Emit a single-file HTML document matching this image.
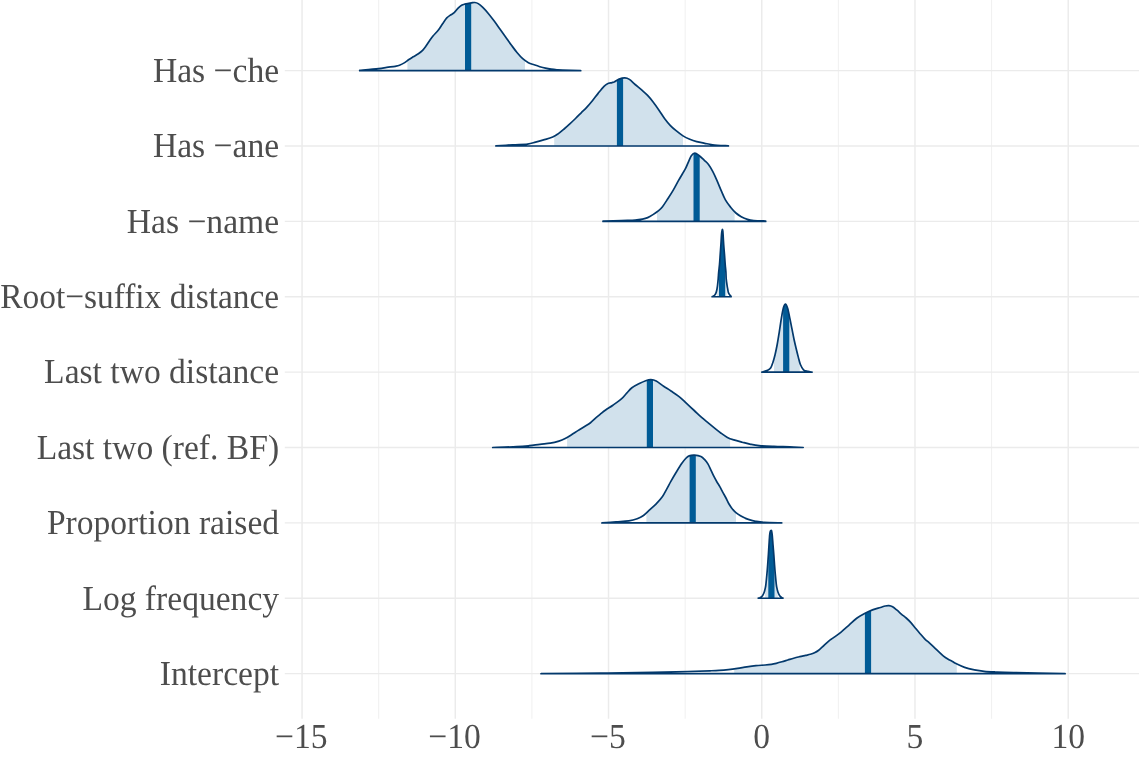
<!DOCTYPE html><html><head><meta charset="utf-8"><style>html,body{margin:0;padding:0;background:#fff;}svg{display:block;}text{font-family:"Liberation Serif","DejaVu Serif",serif;fill:#4D4D4D;text-rendering:geometricPrecision;}</style></head><body>
<svg width="1140" height="758" viewBox="0 0 1140 758">
<rect width="1140" height="758" fill="#fff"/>
<line x1="378.68" y1="-10.00" x2="378.68" y2="718.80" stroke="#EBEBEB" stroke-width="0.75"/>
<line x1="531.90" y1="-10.00" x2="531.90" y2="718.80" stroke="#EBEBEB" stroke-width="0.75"/>
<line x1="685.13" y1="-10.00" x2="685.13" y2="718.80" stroke="#EBEBEB" stroke-width="0.75"/>
<line x1="838.37" y1="-10.00" x2="838.37" y2="718.80" stroke="#EBEBEB" stroke-width="0.75"/>
<line x1="991.60" y1="-10.00" x2="991.60" y2="718.80" stroke="#EBEBEB" stroke-width="0.75"/>
<line x1="302.06" y1="-10.00" x2="302.06" y2="718.80" stroke="#EBEBEB" stroke-width="1.45"/>
<line x1="455.29" y1="-10.00" x2="455.29" y2="718.80" stroke="#EBEBEB" stroke-width="1.45"/>
<line x1="608.52" y1="-10.00" x2="608.52" y2="718.80" stroke="#EBEBEB" stroke-width="1.45"/>
<line x1="761.75" y1="-10.00" x2="761.75" y2="718.80" stroke="#EBEBEB" stroke-width="1.45"/>
<line x1="914.98" y1="-10.00" x2="914.98" y2="718.80" stroke="#EBEBEB" stroke-width="1.45"/>
<line x1="1068.21" y1="-10.00" x2="1068.21" y2="718.80" stroke="#EBEBEB" stroke-width="1.45"/>
<line x1="284.80" y1="70.63" x2="1139.00" y2="70.63" stroke="#EBEBEB" stroke-width="1.45"/>
<line x1="284.80" y1="146.00" x2="1139.00" y2="146.00" stroke="#EBEBEB" stroke-width="1.45"/>
<line x1="284.80" y1="221.38" x2="1139.00" y2="221.38" stroke="#EBEBEB" stroke-width="1.45"/>
<line x1="284.80" y1="296.75" x2="1139.00" y2="296.75" stroke="#EBEBEB" stroke-width="1.45"/>
<line x1="284.80" y1="372.13" x2="1139.00" y2="372.13" stroke="#EBEBEB" stroke-width="1.45"/>
<line x1="284.80" y1="447.50" x2="1139.00" y2="447.50" stroke="#EBEBEB" stroke-width="1.45"/>
<line x1="284.80" y1="522.88" x2="1139.00" y2="522.88" stroke="#EBEBEB" stroke-width="1.45"/>
<line x1="284.80" y1="598.25" x2="1139.00" y2="598.25" stroke="#EBEBEB" stroke-width="1.45"/>
<line x1="284.80" y1="673.63" x2="1139.00" y2="673.63" stroke="#EBEBEB" stroke-width="1.45"/>
<defs>
<clipPath id="c0"><path d="M359.70,70.30 C362.82,70.02 373.88,69.08 378.40,68.60 C382.92,68.12 383.98,67.78 386.80,67.40 C389.62,67.02 393.18,66.65 395.30,66.30 C397.42,65.95 397.93,65.92 399.50,65.30 C401.07,64.68 403.13,63.57 404.70,62.60 C406.27,61.63 407.48,60.47 408.90,59.50 C410.32,58.53 411.62,57.77 413.20,56.80 C414.78,55.83 416.83,54.78 418.40,53.70 C419.97,52.62 421.37,51.53 422.60,50.30 C423.83,49.07 424.57,48.02 425.80,46.30 C427.03,44.58 428.77,41.75 430.00,40.00 C431.23,38.25 431.80,37.47 433.20,35.80 C434.60,34.13 436.83,32.02 438.40,30.00 C439.97,27.98 441.20,25.72 442.60,23.70 C444.00,21.68 445.40,19.40 446.80,17.90 C448.20,16.40 449.77,15.58 451.00,14.70 C452.23,13.82 452.97,13.73 454.20,12.60 C455.43,11.47 457.17,9.12 458.40,7.90 C459.63,6.68 460.55,5.92 461.60,5.30 C462.65,4.68 463.07,4.60 464.70,4.20 C466.33,3.80 469.72,3.18 471.40,2.90 C473.08,2.62 473.67,2.38 474.80,2.50 C475.93,2.62 476.87,2.78 478.20,3.60 C479.53,4.42 481.08,5.72 482.80,7.40 C484.52,9.08 486.60,11.42 488.50,13.70 C490.40,15.98 492.30,18.53 494.20,21.10 C496.10,23.67 498.00,26.43 499.90,29.10 C501.80,31.77 503.70,34.45 505.60,37.10 C507.50,39.75 509.40,42.43 511.30,45.00 C513.20,47.57 515.10,50.22 517.00,52.50 C518.90,54.78 520.80,57.00 522.70,58.70 C524.60,60.40 526.50,61.68 528.40,62.70 C530.30,63.72 532.20,64.13 534.10,64.80 C536.00,65.47 537.90,66.13 539.80,66.70 C541.70,67.27 543.60,67.78 545.50,68.20 C547.40,68.62 549.30,68.93 551.20,69.20 C553.10,69.47 555.00,69.65 556.90,69.80 C558.80,69.95 558.63,69.98 562.60,70.10 C566.57,70.22 577.68,70.43 580.70,70.50 L580.70,70.63 L359.70,70.63 Z"/></clipPath>
<clipPath id="c1"><path d="M495.90,145.90 C498.72,145.72 507.52,145.10 512.80,144.80 C518.08,144.50 523.80,144.55 527.60,144.10 C531.40,143.65 532.93,142.80 535.60,142.10 C538.27,141.40 540.75,140.75 543.60,139.90 C546.45,139.05 550.23,138.05 552.70,137.00 C555.17,135.95 556.50,134.93 558.40,133.60 C560.30,132.27 562.20,130.62 564.10,129.00 C566.00,127.38 567.90,125.65 569.80,123.90 C571.70,122.15 573.60,120.35 575.50,118.50 C577.40,116.65 579.30,114.70 581.20,112.80 C583.10,110.90 585.00,109.15 586.90,107.10 C588.80,105.05 590.70,102.83 592.60,100.50 C594.50,98.17 596.40,95.47 598.30,93.10 C600.20,90.73 602.47,87.87 604.00,86.30 C605.53,84.73 606.17,84.32 607.50,83.70 C608.83,83.08 610.82,82.93 612.00,82.60 C613.18,82.27 613.42,82.28 614.60,81.70 C615.78,81.12 617.40,79.73 619.10,79.10 C620.80,78.47 623.08,77.85 624.80,77.90 C626.52,77.95 627.68,78.30 629.40,79.40 C631.12,80.50 633.02,82.70 635.10,84.50 C637.18,86.30 639.82,88.38 641.90,90.20 C643.98,92.02 645.70,93.40 647.60,95.40 C649.50,97.40 651.40,99.73 653.30,102.20 C655.20,104.67 657.10,107.43 659.00,110.20 C660.90,112.97 662.80,116.23 664.70,118.80 C666.60,121.37 668.50,123.62 670.40,125.60 C672.30,127.58 674.00,128.98 676.10,130.70 C678.20,132.42 680.72,134.47 683.00,135.90 C685.28,137.33 687.52,138.35 689.80,139.30 C692.08,140.25 694.22,140.93 696.70,141.60 C699.18,142.27 702.05,142.77 704.70,143.30 C707.35,143.83 708.65,144.37 712.60,144.80 C716.55,145.23 725.77,145.72 728.40,145.90 L728.40,146.00 L495.90,146.00 Z"/></clipPath>
<clipPath id="c2"><path d="M603.00,221.20 C606.07,221.08 616.05,220.68 621.40,220.50 C626.75,220.32 631.58,220.33 635.10,220.10 C638.62,219.87 640.40,219.52 642.50,219.10 C644.60,218.68 645.95,218.35 647.70,217.60 C649.45,216.85 651.23,215.72 653.00,214.60 C654.77,213.48 656.72,212.22 658.30,210.90 C659.88,209.58 660.92,208.72 662.50,206.70 C664.08,204.68 666.03,201.52 667.80,198.80 C669.57,196.08 671.35,193.38 673.10,190.40 C674.85,187.42 676.72,183.72 678.30,180.90 C679.88,178.08 681.37,175.62 682.60,173.50 C683.83,171.38 684.65,170.32 685.70,168.20 C686.75,166.08 687.93,162.92 688.90,160.80 C689.87,158.68 690.52,156.77 691.50,155.50 C692.48,154.23 693.55,153.20 694.80,153.20 C696.05,153.20 697.42,154.32 699.00,155.50 C700.58,156.68 702.72,158.80 704.30,160.30 C705.88,161.80 707.10,162.65 708.50,164.50 C709.90,166.35 711.30,168.77 712.70,171.40 C714.10,174.03 715.50,177.13 716.90,180.30 C718.30,183.47 719.68,187.13 721.10,190.40 C722.52,193.67 723.82,197.10 725.40,199.90 C726.98,202.70 728.85,205.02 730.60,207.20 C732.35,209.38 734.13,211.42 735.90,213.00 C737.67,214.58 739.27,215.63 741.20,216.70 C743.13,217.77 745.40,218.77 747.50,219.40 C749.60,220.03 750.77,220.23 753.80,220.50 C756.83,220.77 763.72,220.92 765.70,221.00 L765.70,221.38 L603.00,221.38 Z"/></clipPath>
<clipPath id="c3"><path d="M712.10,296.70 C712.28,296.62 712.75,296.48 713.20,296.20 C713.65,295.92 714.32,295.60 714.80,295.00 C715.28,294.40 715.73,293.60 716.10,292.60 C716.47,291.60 716.77,290.15 717.00,289.00 C717.23,287.85 717.30,287.38 717.50,285.70 C717.70,284.02 718.00,281.18 718.20,278.90 C718.40,276.62 718.48,274.40 718.70,272.00 C718.92,269.60 719.25,267.40 719.50,264.50 C719.75,261.60 719.97,257.90 720.20,254.60 C720.43,251.30 720.68,247.98 720.90,244.70 C721.12,241.42 721.32,237.22 721.50,234.90 C721.68,232.58 721.85,231.73 722.00,230.80 C722.15,229.87 722.27,229.30 722.40,229.30 C722.53,229.30 722.68,229.87 722.80,230.80 C722.92,231.73 722.95,232.58 723.10,234.90 C723.25,237.22 723.47,241.42 723.70,244.70 C723.93,247.98 724.25,251.30 724.50,254.60 C724.75,257.90 724.97,261.60 725.20,264.50 C725.43,267.40 725.73,269.60 725.90,272.00 C726.07,274.40 726.00,276.62 726.20,278.90 C726.40,281.18 726.85,284.02 727.10,285.70 C727.35,287.38 727.48,287.85 727.70,289.00 C727.92,290.15 728.05,291.60 728.40,292.60 C728.75,293.60 729.37,294.40 729.80,295.00 C730.23,295.60 730.78,295.92 731.00,296.20 C731.22,296.48 731.08,296.62 731.10,296.70 L731.10,296.75 L712.10,296.75 Z"/></clipPath>
<clipPath id="c4"><path d="M761.90,372.10 C762.87,371.80 766.22,371.03 767.70,370.30 C769.18,369.57 769.93,369.02 770.80,367.70 C771.67,366.38 772.20,364.52 772.90,362.40 C773.60,360.28 774.28,357.98 775.00,355.00 C775.72,352.02 776.48,348.37 777.20,344.50 C777.92,340.63 778.60,336.20 779.30,331.80 C780.00,327.40 780.70,322.13 781.40,318.10 C782.10,314.07 782.80,309.92 783.50,307.60 C784.20,305.28 784.90,304.03 785.60,304.20 C786.30,304.37 787.00,306.28 787.70,308.60 C788.40,310.92 789.10,314.75 789.80,318.10 C790.50,321.45 791.20,325.18 791.90,328.70 C792.60,332.22 793.28,335.87 794.00,339.20 C794.72,342.53 795.48,345.72 796.20,348.70 C796.92,351.68 797.60,354.47 798.30,357.10 C799.00,359.73 799.53,362.38 800.40,364.50 C801.27,366.62 802.27,368.65 803.50,369.80 C804.73,370.95 806.38,371.02 807.80,371.40 C809.22,371.78 811.30,371.98 812.00,372.10 L812.00,372.13 L761.90,372.13 Z"/></clipPath>
<clipPath id="c5"><path d="M492.70,447.50 C496.70,447.37 510.60,447.00 516.70,446.70 C522.80,446.40 525.43,446.10 529.30,445.70 C533.17,445.30 536.38,444.72 539.90,444.30 C543.42,443.88 547.23,443.73 550.40,443.20 C553.57,442.67 556.43,441.88 558.90,441.10 C561.37,440.32 563.10,439.55 565.20,438.50 C567.30,437.45 569.38,436.12 571.50,434.80 C573.62,433.48 575.78,431.95 577.90,430.60 C580.02,429.25 582.10,428.02 584.20,426.70 C586.30,425.38 588.57,424.17 590.50,422.70 C592.43,421.23 594.17,419.32 595.80,417.90 C597.43,416.48 598.67,415.52 600.30,414.20 C601.93,412.88 603.50,411.50 605.60,410.00 C607.70,408.50 610.27,407.05 612.90,405.20 C615.53,403.35 619.10,400.92 621.40,398.90 C623.70,396.88 624.95,394.95 626.70,393.10 C628.45,391.25 629.80,389.38 631.90,387.80 C634.00,386.22 637.00,384.78 639.30,383.60 C641.60,382.42 643.77,381.37 645.70,380.70 C647.63,380.03 649.15,379.55 650.90,379.60 C652.65,379.65 654.08,379.90 656.20,381.00 C658.32,382.10 661.13,384.53 663.60,386.20 C666.07,387.87 668.37,389.23 671.00,391.00 C673.63,392.77 676.77,394.68 679.40,396.80 C682.03,398.92 684.33,401.42 686.80,403.70 C689.27,405.98 691.73,408.22 694.20,410.50 C696.67,412.78 699.32,415.37 701.60,417.40 C703.88,419.43 705.88,421.03 707.90,422.70 C709.92,424.37 711.50,425.65 713.70,427.40 C715.90,429.15 718.82,431.53 721.10,433.20 C723.38,434.87 725.28,436.28 727.40,437.40 C729.52,438.52 731.33,439.10 733.80,439.90 C736.27,440.70 739.38,441.47 742.20,442.20 C745.02,442.93 747.88,443.73 750.70,444.30 C753.52,444.87 755.23,445.25 759.10,445.60 C762.97,445.95 768.80,446.18 773.90,446.40 C779.00,446.62 784.82,446.72 789.70,446.90 C794.58,447.08 800.95,447.40 803.20,447.50 L803.20,447.50 L492.70,447.50 Z"/></clipPath>
<clipPath id="c6"><path d="M601.90,522.90 C604.27,522.72 611.62,522.15 616.10,521.80 C620.58,521.45 625.28,521.32 628.80,520.80 C632.32,520.28 634.75,519.58 637.20,518.70 C639.65,517.82 641.38,517.00 643.50,515.50 C645.62,514.00 647.78,511.63 649.90,509.70 C652.02,507.77 654.10,506.10 656.20,503.90 C658.30,501.70 660.75,498.97 662.50,496.50 C664.25,494.03 665.28,491.65 666.70,489.10 C668.12,486.55 669.42,484.00 671.00,481.20 C672.58,478.40 674.45,475.20 676.20,472.30 C677.95,469.40 679.92,466.10 681.50,463.80 C683.08,461.50 684.42,459.82 685.70,458.50 C686.98,457.18 687.73,456.45 689.20,455.90 C690.67,455.35 692.55,455.10 694.50,455.20 C696.45,455.30 699.17,455.72 700.90,456.50 C702.63,457.28 703.73,458.67 704.90,459.90 C706.07,461.13 706.92,462.25 707.90,463.90 C708.88,465.55 709.82,467.75 710.80,469.80 C711.78,471.85 712.80,474.22 713.80,476.20 C714.80,478.18 715.80,479.97 716.80,481.70 C717.80,483.43 718.82,484.87 719.80,486.60 C720.78,488.33 721.72,490.28 722.70,492.10 C723.68,493.92 724.70,495.60 725.70,497.50 C726.70,499.40 727.72,501.77 728.70,503.50 C729.68,505.23 730.45,506.42 731.60,507.90 C732.75,509.38 734.12,511.08 735.60,512.40 C737.08,513.72 738.93,514.85 740.50,515.80 C742.07,516.75 743.70,517.50 745.00,518.10 C746.30,518.70 746.52,518.87 748.30,519.40 C750.08,519.93 753.07,520.80 755.70,521.30 C758.33,521.80 759.75,522.13 764.10,522.40 C768.45,522.67 778.85,522.82 781.80,522.90 L781.80,522.88 L601.90,522.88 Z"/></clipPath>
<clipPath id="c7"><path d="M758.30,598.10 C758.58,598.03 759.33,598.05 760.00,597.70 C760.67,597.35 761.60,596.92 762.30,596.00 C763.00,595.08 763.70,593.53 764.20,592.20 C764.70,590.87 765.02,589.32 765.30,588.00 C765.58,586.68 765.63,586.57 765.90,584.30 C766.17,582.03 766.60,577.70 766.90,574.40 C767.20,571.10 767.45,567.80 767.70,564.50 C767.95,561.20 768.18,557.88 768.40,554.60 C768.62,551.32 768.78,548.08 769.00,544.80 C769.22,541.52 769.48,537.12 769.70,534.90 C769.92,532.68 770.08,532.22 770.30,531.50 C770.52,530.78 770.78,530.70 771.00,530.60 C771.22,530.50 771.40,530.18 771.60,530.90 C771.80,531.62 771.97,532.58 772.20,534.90 C772.43,537.22 772.73,541.52 773.00,544.80 C773.27,548.08 773.55,551.32 773.80,554.60 C774.05,557.88 774.25,561.20 774.50,564.50 C774.75,567.80 775.00,571.10 775.30,574.40 C775.60,577.70 776.03,582.03 776.30,584.30 C776.57,586.57 776.62,586.68 776.90,588.00 C777.18,589.32 777.50,590.87 778.00,592.20 C778.50,593.53 779.23,595.08 779.90,596.00 C780.57,596.92 781.50,597.35 782.00,597.70 C782.50,598.05 782.75,598.03 782.90,598.10 L782.90,598.25 L758.30,598.25 Z"/></clipPath>
<clipPath id="c8"><path d="M541.00,673.70 C550.87,673.60 581.57,673.33 600.20,673.10 C618.83,672.87 638.18,672.57 652.80,672.30 C667.42,672.03 678.37,671.75 687.90,671.50 C697.43,671.25 704.78,670.98 710.00,670.80 C715.22,670.62 716.13,670.60 719.20,670.40 C722.27,670.20 725.33,669.93 728.40,669.60 C731.47,669.27 734.53,668.85 737.60,668.40 C740.67,667.95 743.73,667.35 746.80,666.90 C749.87,666.45 752.93,666.02 756.00,665.70 C759.07,665.38 762.63,665.23 765.20,665.00 C767.77,664.77 769.55,664.58 771.40,664.30 C773.25,664.02 774.55,663.72 776.30,663.30 C778.05,662.88 779.98,662.35 781.90,661.80 C783.82,661.25 785.83,660.60 787.80,660.00 C789.77,659.40 791.72,658.75 793.70,658.20 C795.68,657.65 797.72,657.17 799.70,656.70 C801.68,656.23 803.82,655.80 805.60,655.40 C807.38,655.00 808.92,654.73 810.40,654.30 C811.88,653.87 813.12,653.48 814.50,652.80 C815.88,652.12 817.22,651.33 818.70,650.20 C820.18,649.07 821.63,647.60 823.40,646.00 C825.17,644.40 827.72,641.92 829.30,640.60 C830.88,639.28 830.98,639.48 832.90,638.10 C834.82,636.72 838.15,634.43 840.80,632.30 C843.45,630.17 846.15,627.65 848.80,625.30 C851.45,622.95 854.07,620.17 856.70,618.20 C859.33,616.23 861.97,614.88 864.60,613.50 C867.23,612.12 869.87,610.90 872.50,609.90 C875.13,608.90 878.28,608.15 880.40,607.50 C882.52,606.85 883.78,606.32 885.20,606.00 C886.62,605.68 887.67,605.47 888.90,605.60 C890.13,605.73 891.25,606.03 892.60,606.80 C893.95,607.57 895.50,608.95 897.00,610.20 C898.50,611.45 900.07,613.00 901.60,614.30 C903.13,615.60 904.65,616.62 906.20,618.00 C907.75,619.38 909.35,620.90 910.90,622.60 C912.45,624.30 913.97,626.35 915.50,628.20 C917.03,630.05 918.57,631.93 920.10,633.70 C921.63,635.47 923.17,637.27 924.70,638.80 C926.23,640.33 927.77,641.52 929.30,642.90 C930.83,644.28 932.35,645.63 933.90,647.10 C935.45,648.57 937.05,650.23 938.60,651.70 C940.15,653.17 941.67,654.67 943.20,655.90 C944.73,657.13 946.27,658.17 947.80,659.10 C949.33,660.03 951.03,660.75 952.40,661.50 C953.77,662.25 953.97,662.62 956.00,663.60 C958.03,664.58 961.53,666.37 964.60,667.40 C967.67,668.43 971.13,669.15 974.40,669.80 C977.67,670.45 980.72,670.93 984.20,671.30 C987.68,671.67 990.38,671.78 995.30,672.00 C1000.22,672.22 1002.07,672.35 1013.70,672.60 C1025.33,672.85 1056.53,673.35 1065.10,673.50 L1065.10,673.63 L541.00,673.63 Z"/></clipPath>
</defs>
<g clip-path="url(#c0)"><rect x="407.40" y="-49.37" width="117.60" height="120.00" fill="#d1e1ec"/>
<rect x="465.00" y="-49.37" width="6.2" height="120.00" fill="#005b96"/></g>
<path d="M359.70,70.30 C362.82,70.02 373.88,69.08 378.40,68.60 C382.92,68.12 383.98,67.78 386.80,67.40 C389.62,67.02 393.18,66.65 395.30,66.30 C397.42,65.95 397.93,65.92 399.50,65.30 C401.07,64.68 403.13,63.57 404.70,62.60 C406.27,61.63 407.48,60.47 408.90,59.50 C410.32,58.53 411.62,57.77 413.20,56.80 C414.78,55.83 416.83,54.78 418.40,53.70 C419.97,52.62 421.37,51.53 422.60,50.30 C423.83,49.07 424.57,48.02 425.80,46.30 C427.03,44.58 428.77,41.75 430.00,40.00 C431.23,38.25 431.80,37.47 433.20,35.80 C434.60,34.13 436.83,32.02 438.40,30.00 C439.97,27.98 441.20,25.72 442.60,23.70 C444.00,21.68 445.40,19.40 446.80,17.90 C448.20,16.40 449.77,15.58 451.00,14.70 C452.23,13.82 452.97,13.73 454.20,12.60 C455.43,11.47 457.17,9.12 458.40,7.90 C459.63,6.68 460.55,5.92 461.60,5.30 C462.65,4.68 463.07,4.60 464.70,4.20 C466.33,3.80 469.72,3.18 471.40,2.90 C473.08,2.62 473.67,2.38 474.80,2.50 C475.93,2.62 476.87,2.78 478.20,3.60 C479.53,4.42 481.08,5.72 482.80,7.40 C484.52,9.08 486.60,11.42 488.50,13.70 C490.40,15.98 492.30,18.53 494.20,21.10 C496.10,23.67 498.00,26.43 499.90,29.10 C501.80,31.77 503.70,34.45 505.60,37.10 C507.50,39.75 509.40,42.43 511.30,45.00 C513.20,47.57 515.10,50.22 517.00,52.50 C518.90,54.78 520.80,57.00 522.70,58.70 C524.60,60.40 526.50,61.68 528.40,62.70 C530.30,63.72 532.20,64.13 534.10,64.80 C536.00,65.47 537.90,66.13 539.80,66.70 C541.70,67.27 543.60,67.78 545.50,68.20 C547.40,68.62 549.30,68.93 551.20,69.20 C553.10,69.47 555.00,69.65 556.90,69.80 C558.80,69.95 558.63,69.98 562.60,70.10 C566.57,70.22 577.68,70.43 580.70,70.50 L580.70,70.63 L359.70,70.63 Z" fill="none" stroke="#03396c" stroke-width="1.7" stroke-linejoin="round"/>
<g clip-path="url(#c1)"><rect x="554.20" y="26.00" width="128.80" height="120.00" fill="#d1e1ec"/>
<rect x="616.90" y="26.00" width="6.2" height="120.00" fill="#005b96"/></g>
<path d="M495.90,145.90 C498.72,145.72 507.52,145.10 512.80,144.80 C518.08,144.50 523.80,144.55 527.60,144.10 C531.40,143.65 532.93,142.80 535.60,142.10 C538.27,141.40 540.75,140.75 543.60,139.90 C546.45,139.05 550.23,138.05 552.70,137.00 C555.17,135.95 556.50,134.93 558.40,133.60 C560.30,132.27 562.20,130.62 564.10,129.00 C566.00,127.38 567.90,125.65 569.80,123.90 C571.70,122.15 573.60,120.35 575.50,118.50 C577.40,116.65 579.30,114.70 581.20,112.80 C583.10,110.90 585.00,109.15 586.90,107.10 C588.80,105.05 590.70,102.83 592.60,100.50 C594.50,98.17 596.40,95.47 598.30,93.10 C600.20,90.73 602.47,87.87 604.00,86.30 C605.53,84.73 606.17,84.32 607.50,83.70 C608.83,83.08 610.82,82.93 612.00,82.60 C613.18,82.27 613.42,82.28 614.60,81.70 C615.78,81.12 617.40,79.73 619.10,79.10 C620.80,78.47 623.08,77.85 624.80,77.90 C626.52,77.95 627.68,78.30 629.40,79.40 C631.12,80.50 633.02,82.70 635.10,84.50 C637.18,86.30 639.82,88.38 641.90,90.20 C643.98,92.02 645.70,93.40 647.60,95.40 C649.50,97.40 651.40,99.73 653.30,102.20 C655.20,104.67 657.10,107.43 659.00,110.20 C660.90,112.97 662.80,116.23 664.70,118.80 C666.60,121.37 668.50,123.62 670.40,125.60 C672.30,127.58 674.00,128.98 676.10,130.70 C678.20,132.42 680.72,134.47 683.00,135.90 C685.28,137.33 687.52,138.35 689.80,139.30 C692.08,140.25 694.22,140.93 696.70,141.60 C699.18,142.27 702.05,142.77 704.70,143.30 C707.35,143.83 708.65,144.37 712.60,144.80 C716.55,145.23 725.77,145.72 728.40,145.90 L728.40,146.00 L495.90,146.00 Z" fill="none" stroke="#03396c" stroke-width="1.7" stroke-linejoin="round"/>
<g clip-path="url(#c2)"><rect x="657.00" y="101.38" width="77.60" height="120.00" fill="#d1e1ec"/>
<rect x="693.50" y="101.38" width="6.2" height="120.00" fill="#005b96"/></g>
<path d="M603.00,221.20 C606.07,221.08 616.05,220.68 621.40,220.50 C626.75,220.32 631.58,220.33 635.10,220.10 C638.62,219.87 640.40,219.52 642.50,219.10 C644.60,218.68 645.95,218.35 647.70,217.60 C649.45,216.85 651.23,215.72 653.00,214.60 C654.77,213.48 656.72,212.22 658.30,210.90 C659.88,209.58 660.92,208.72 662.50,206.70 C664.08,204.68 666.03,201.52 667.80,198.80 C669.57,196.08 671.35,193.38 673.10,190.40 C674.85,187.42 676.72,183.72 678.30,180.90 C679.88,178.08 681.37,175.62 682.60,173.50 C683.83,171.38 684.65,170.32 685.70,168.20 C686.75,166.08 687.93,162.92 688.90,160.80 C689.87,158.68 690.52,156.77 691.50,155.50 C692.48,154.23 693.55,153.20 694.80,153.20 C696.05,153.20 697.42,154.32 699.00,155.50 C700.58,156.68 702.72,158.80 704.30,160.30 C705.88,161.80 707.10,162.65 708.50,164.50 C709.90,166.35 711.30,168.77 712.70,171.40 C714.10,174.03 715.50,177.13 716.90,180.30 C718.30,183.47 719.68,187.13 721.10,190.40 C722.52,193.67 723.82,197.10 725.40,199.90 C726.98,202.70 728.85,205.02 730.60,207.20 C732.35,209.38 734.13,211.42 735.90,213.00 C737.67,214.58 739.27,215.63 741.20,216.70 C743.13,217.77 745.40,218.77 747.50,219.40 C749.60,220.03 750.77,220.23 753.80,220.50 C756.83,220.77 763.72,220.92 765.70,221.00 L765.70,221.38 L603.00,221.38 Z" fill="none" stroke="#03396c" stroke-width="1.7" stroke-linejoin="round"/>
<g clip-path="url(#c3)"><rect x="717.20" y="176.75" width="9.40" height="120.00" fill="#d1e1ec"/>
<rect x="719.00" y="176.75" width="6.2" height="120.00" fill="#005b96"/></g>
<path d="M712.10,296.70 C712.28,296.62 712.75,296.48 713.20,296.20 C713.65,295.92 714.32,295.60 714.80,295.00 C715.28,294.40 715.73,293.60 716.10,292.60 C716.47,291.60 716.77,290.15 717.00,289.00 C717.23,287.85 717.30,287.38 717.50,285.70 C717.70,284.02 718.00,281.18 718.20,278.90 C718.40,276.62 718.48,274.40 718.70,272.00 C718.92,269.60 719.25,267.40 719.50,264.50 C719.75,261.60 719.97,257.90 720.20,254.60 C720.43,251.30 720.68,247.98 720.90,244.70 C721.12,241.42 721.32,237.22 721.50,234.90 C721.68,232.58 721.85,231.73 722.00,230.80 C722.15,229.87 722.27,229.30 722.40,229.30 C722.53,229.30 722.68,229.87 722.80,230.80 C722.92,231.73 722.95,232.58 723.10,234.90 C723.25,237.22 723.47,241.42 723.70,244.70 C723.93,247.98 724.25,251.30 724.50,254.60 C724.75,257.90 724.97,261.60 725.20,264.50 C725.43,267.40 725.73,269.60 725.90,272.00 C726.07,274.40 726.00,276.62 726.20,278.90 C726.40,281.18 726.85,284.02 727.10,285.70 C727.35,287.38 727.48,287.85 727.70,289.00 C727.92,290.15 728.05,291.60 728.40,292.60 C728.75,293.60 729.37,294.40 729.80,295.00 C730.23,295.60 730.78,295.92 731.00,296.20 C731.22,296.48 731.08,296.62 731.10,296.70 L731.10,296.75 L712.10,296.75 Z" fill="none" stroke="#03396c" stroke-width="1.7" stroke-linejoin="round"/>
<g clip-path="url(#c4)"><rect x="774.00" y="252.13" width="25.80" height="120.00" fill="#d1e1ec"/>
<rect x="783.10" y="252.13" width="6.2" height="120.00" fill="#005b96"/></g>
<path d="M761.90,372.10 C762.87,371.80 766.22,371.03 767.70,370.30 C769.18,369.57 769.93,369.02 770.80,367.70 C771.67,366.38 772.20,364.52 772.90,362.40 C773.60,360.28 774.28,357.98 775.00,355.00 C775.72,352.02 776.48,348.37 777.20,344.50 C777.92,340.63 778.60,336.20 779.30,331.80 C780.00,327.40 780.70,322.13 781.40,318.10 C782.10,314.07 782.80,309.92 783.50,307.60 C784.20,305.28 784.90,304.03 785.60,304.20 C786.30,304.37 787.00,306.28 787.70,308.60 C788.40,310.92 789.10,314.75 789.80,318.10 C790.50,321.45 791.20,325.18 791.90,328.70 C792.60,332.22 793.28,335.87 794.00,339.20 C794.72,342.53 795.48,345.72 796.20,348.70 C796.92,351.68 797.60,354.47 798.30,357.10 C799.00,359.73 799.53,362.38 800.40,364.50 C801.27,366.62 802.27,368.65 803.50,369.80 C804.73,370.95 806.38,371.02 807.80,371.40 C809.22,371.78 811.30,371.98 812.00,372.10 L812.00,372.13 L761.90,372.13 Z" fill="none" stroke="#03396c" stroke-width="1.7" stroke-linejoin="round"/>
<g clip-path="url(#c5)"><rect x="567.10" y="327.50" width="163.00" height="120.00" fill="#d1e1ec"/>
<rect x="646.80" y="327.50" width="6.2" height="120.00" fill="#005b96"/></g>
<path d="M492.70,447.50 C496.70,447.37 510.60,447.00 516.70,446.70 C522.80,446.40 525.43,446.10 529.30,445.70 C533.17,445.30 536.38,444.72 539.90,444.30 C543.42,443.88 547.23,443.73 550.40,443.20 C553.57,442.67 556.43,441.88 558.90,441.10 C561.37,440.32 563.10,439.55 565.20,438.50 C567.30,437.45 569.38,436.12 571.50,434.80 C573.62,433.48 575.78,431.95 577.90,430.60 C580.02,429.25 582.10,428.02 584.20,426.70 C586.30,425.38 588.57,424.17 590.50,422.70 C592.43,421.23 594.17,419.32 595.80,417.90 C597.43,416.48 598.67,415.52 600.30,414.20 C601.93,412.88 603.50,411.50 605.60,410.00 C607.70,408.50 610.27,407.05 612.90,405.20 C615.53,403.35 619.10,400.92 621.40,398.90 C623.70,396.88 624.95,394.95 626.70,393.10 C628.45,391.25 629.80,389.38 631.90,387.80 C634.00,386.22 637.00,384.78 639.30,383.60 C641.60,382.42 643.77,381.37 645.70,380.70 C647.63,380.03 649.15,379.55 650.90,379.60 C652.65,379.65 654.08,379.90 656.20,381.00 C658.32,382.10 661.13,384.53 663.60,386.20 C666.07,387.87 668.37,389.23 671.00,391.00 C673.63,392.77 676.77,394.68 679.40,396.80 C682.03,398.92 684.33,401.42 686.80,403.70 C689.27,405.98 691.73,408.22 694.20,410.50 C696.67,412.78 699.32,415.37 701.60,417.40 C703.88,419.43 705.88,421.03 707.90,422.70 C709.92,424.37 711.50,425.65 713.70,427.40 C715.90,429.15 718.82,431.53 721.10,433.20 C723.38,434.87 725.28,436.28 727.40,437.40 C729.52,438.52 731.33,439.10 733.80,439.90 C736.27,440.70 739.38,441.47 742.20,442.20 C745.02,442.93 747.88,443.73 750.70,444.30 C753.52,444.87 755.23,445.25 759.10,445.60 C762.97,445.95 768.80,446.18 773.90,446.40 C779.00,446.62 784.82,446.72 789.70,446.90 C794.58,447.08 800.95,447.40 803.20,447.50 L803.20,447.50 L492.70,447.50 Z" fill="none" stroke="#03396c" stroke-width="1.7" stroke-linejoin="round"/>
<g clip-path="url(#c6)"><rect x="646.40" y="402.88" width="89.60" height="120.00" fill="#d1e1ec"/>
<rect x="689.60" y="402.88" width="6.2" height="120.00" fill="#005b96"/></g>
<path d="M601.90,522.90 C604.27,522.72 611.62,522.15 616.10,521.80 C620.58,521.45 625.28,521.32 628.80,520.80 C632.32,520.28 634.75,519.58 637.20,518.70 C639.65,517.82 641.38,517.00 643.50,515.50 C645.62,514.00 647.78,511.63 649.90,509.70 C652.02,507.77 654.10,506.10 656.20,503.90 C658.30,501.70 660.75,498.97 662.50,496.50 C664.25,494.03 665.28,491.65 666.70,489.10 C668.12,486.55 669.42,484.00 671.00,481.20 C672.58,478.40 674.45,475.20 676.20,472.30 C677.95,469.40 679.92,466.10 681.50,463.80 C683.08,461.50 684.42,459.82 685.70,458.50 C686.98,457.18 687.73,456.45 689.20,455.90 C690.67,455.35 692.55,455.10 694.50,455.20 C696.45,455.30 699.17,455.72 700.90,456.50 C702.63,457.28 703.73,458.67 704.90,459.90 C706.07,461.13 706.92,462.25 707.90,463.90 C708.88,465.55 709.82,467.75 710.80,469.80 C711.78,471.85 712.80,474.22 713.80,476.20 C714.80,478.18 715.80,479.97 716.80,481.70 C717.80,483.43 718.82,484.87 719.80,486.60 C720.78,488.33 721.72,490.28 722.70,492.10 C723.68,493.92 724.70,495.60 725.70,497.50 C726.70,499.40 727.72,501.77 728.70,503.50 C729.68,505.23 730.45,506.42 731.60,507.90 C732.75,509.38 734.12,511.08 735.60,512.40 C737.08,513.72 738.93,514.85 740.50,515.80 C742.07,516.75 743.70,517.50 745.00,518.10 C746.30,518.70 746.52,518.87 748.30,519.40 C750.08,519.93 753.07,520.80 755.70,521.30 C758.33,521.80 759.75,522.13 764.10,522.40 C768.45,522.67 778.85,522.82 781.80,522.90 L781.80,522.88 L601.90,522.88 Z" fill="none" stroke="#03396c" stroke-width="1.7" stroke-linejoin="round"/>
<g clip-path="url(#c7)"><rect x="765.10" y="478.25" width="12.60" height="120.00" fill="#d1e1ec"/>
<rect x="768.30" y="478.25" width="6.2" height="120.00" fill="#005b96"/></g>
<path d="M758.30,598.10 C758.58,598.03 759.33,598.05 760.00,597.70 C760.67,597.35 761.60,596.92 762.30,596.00 C763.00,595.08 763.70,593.53 764.20,592.20 C764.70,590.87 765.02,589.32 765.30,588.00 C765.58,586.68 765.63,586.57 765.90,584.30 C766.17,582.03 766.60,577.70 766.90,574.40 C767.20,571.10 767.45,567.80 767.70,564.50 C767.95,561.20 768.18,557.88 768.40,554.60 C768.62,551.32 768.78,548.08 769.00,544.80 C769.22,541.52 769.48,537.12 769.70,534.90 C769.92,532.68 770.08,532.22 770.30,531.50 C770.52,530.78 770.78,530.70 771.00,530.60 C771.22,530.50 771.40,530.18 771.60,530.90 C771.80,531.62 771.97,532.58 772.20,534.90 C772.43,537.22 772.73,541.52 773.00,544.80 C773.27,548.08 773.55,551.32 773.80,554.60 C774.05,557.88 774.25,561.20 774.50,564.50 C774.75,567.80 775.00,571.10 775.30,574.40 C775.60,577.70 776.03,582.03 776.30,584.30 C776.57,586.57 776.62,586.68 776.90,588.00 C777.18,589.32 777.50,590.87 778.00,592.20 C778.50,593.53 779.23,595.08 779.90,596.00 C780.57,596.92 781.50,597.35 782.00,597.70 C782.50,598.05 782.75,598.03 782.90,598.10 L782.90,598.25 L758.30,598.25 Z" fill="none" stroke="#03396c" stroke-width="1.7" stroke-linejoin="round"/>
<g clip-path="url(#c8)"><rect x="734.20" y="553.63" width="222.60" height="120.00" fill="#d1e1ec"/>
<rect x="864.90" y="553.63" width="6.2" height="120.00" fill="#005b96"/></g>
<path d="M541.00,673.70 C550.87,673.60 581.57,673.33 600.20,673.10 C618.83,672.87 638.18,672.57 652.80,672.30 C667.42,672.03 678.37,671.75 687.90,671.50 C697.43,671.25 704.78,670.98 710.00,670.80 C715.22,670.62 716.13,670.60 719.20,670.40 C722.27,670.20 725.33,669.93 728.40,669.60 C731.47,669.27 734.53,668.85 737.60,668.40 C740.67,667.95 743.73,667.35 746.80,666.90 C749.87,666.45 752.93,666.02 756.00,665.70 C759.07,665.38 762.63,665.23 765.20,665.00 C767.77,664.77 769.55,664.58 771.40,664.30 C773.25,664.02 774.55,663.72 776.30,663.30 C778.05,662.88 779.98,662.35 781.90,661.80 C783.82,661.25 785.83,660.60 787.80,660.00 C789.77,659.40 791.72,658.75 793.70,658.20 C795.68,657.65 797.72,657.17 799.70,656.70 C801.68,656.23 803.82,655.80 805.60,655.40 C807.38,655.00 808.92,654.73 810.40,654.30 C811.88,653.87 813.12,653.48 814.50,652.80 C815.88,652.12 817.22,651.33 818.70,650.20 C820.18,649.07 821.63,647.60 823.40,646.00 C825.17,644.40 827.72,641.92 829.30,640.60 C830.88,639.28 830.98,639.48 832.90,638.10 C834.82,636.72 838.15,634.43 840.80,632.30 C843.45,630.17 846.15,627.65 848.80,625.30 C851.45,622.95 854.07,620.17 856.70,618.20 C859.33,616.23 861.97,614.88 864.60,613.50 C867.23,612.12 869.87,610.90 872.50,609.90 C875.13,608.90 878.28,608.15 880.40,607.50 C882.52,606.85 883.78,606.32 885.20,606.00 C886.62,605.68 887.67,605.47 888.90,605.60 C890.13,605.73 891.25,606.03 892.60,606.80 C893.95,607.57 895.50,608.95 897.00,610.20 C898.50,611.45 900.07,613.00 901.60,614.30 C903.13,615.60 904.65,616.62 906.20,618.00 C907.75,619.38 909.35,620.90 910.90,622.60 C912.45,624.30 913.97,626.35 915.50,628.20 C917.03,630.05 918.57,631.93 920.10,633.70 C921.63,635.47 923.17,637.27 924.70,638.80 C926.23,640.33 927.77,641.52 929.30,642.90 C930.83,644.28 932.35,645.63 933.90,647.10 C935.45,648.57 937.05,650.23 938.60,651.70 C940.15,653.17 941.67,654.67 943.20,655.90 C944.73,657.13 946.27,658.17 947.80,659.10 C949.33,660.03 951.03,660.75 952.40,661.50 C953.77,662.25 953.97,662.62 956.00,663.60 C958.03,664.58 961.53,666.37 964.60,667.40 C967.67,668.43 971.13,669.15 974.40,669.80 C977.67,670.45 980.72,670.93 984.20,671.30 C987.68,671.67 990.38,671.78 995.30,672.00 C1000.22,672.22 1002.07,672.35 1013.70,672.60 C1025.33,672.85 1056.53,673.35 1065.10,673.50 L1065.10,673.63 L541.00,673.63 Z" fill="none" stroke="#03396c" stroke-width="1.7" stroke-linejoin="round"/>
<text transform="translate(279.1,81.88) scale(1,1.045)" font-size="33.6" text-anchor="end">Has −che</text>
<text transform="translate(279.1,157.25) scale(1,1.045)" font-size="33.6" text-anchor="end">Has −ane</text>
<text transform="translate(279.1,232.63) scale(1,1.045)" font-size="33.6" text-anchor="end">Has −name</text>
<text transform="translate(279.1,308.00) scale(1,1.045)" font-size="33.6" text-anchor="end" textLength="278.9" lengthAdjust="spacingAndGlyphs">Root−suffix distance</text>
<text transform="translate(279.1,383.38) scale(1,1.045)" font-size="33.6" text-anchor="end">Last two distance</text>
<text transform="translate(279.1,458.75) scale(1,1.045)" font-size="33.6" text-anchor="end">Last two (ref. BF)</text>
<text transform="translate(279.1,534.13) scale(1,1.045)" font-size="33.6" text-anchor="end">Proportion raised</text>
<text transform="translate(279.1,609.50) scale(1,1.045)" font-size="33.6" text-anchor="end">Log frequency</text>
<text transform="translate(279.1,684.88) scale(1,1.045)" font-size="33.6" text-anchor="end">Intercept</text>
<text transform="translate(301.36,748.1) scale(1,1.045)" font-size="33.6" text-anchor="middle">−15</text>
<text transform="translate(454.59,748.1) scale(1,1.045)" font-size="33.6" text-anchor="middle">−10</text>
<text transform="translate(607.82,748.1) scale(1,1.045)" font-size="33.6" text-anchor="middle">−5</text>
<text transform="translate(761.75,748.1) scale(1,1.045)" font-size="33.6" text-anchor="middle">0</text>
<text transform="translate(914.98,748.1) scale(1,1.045)" font-size="33.6" text-anchor="middle">5</text>
<text transform="translate(1068.21,748.1) scale(1,1.045)" font-size="33.6" text-anchor="middle">10</text>
</svg></body></html>
